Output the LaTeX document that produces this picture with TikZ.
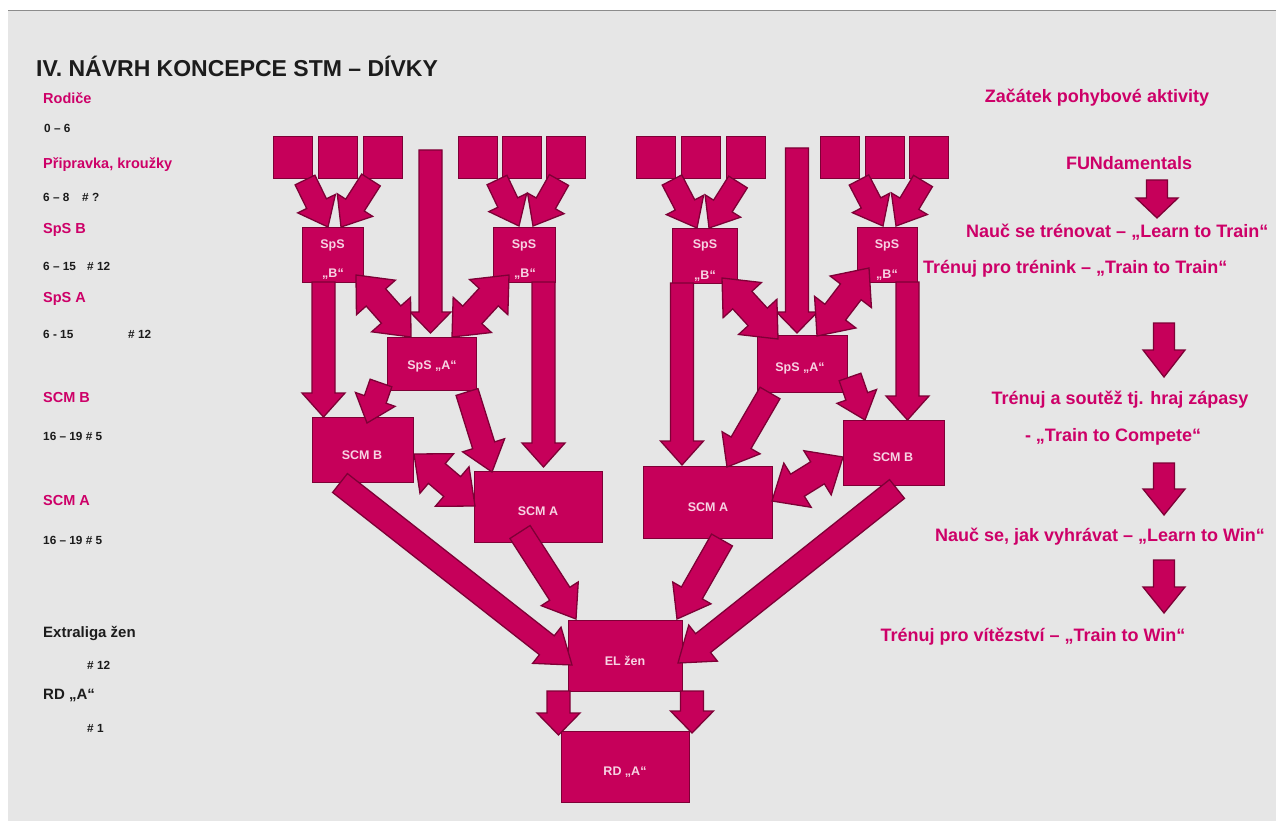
\documentclass[tikz,border=0pt]{standalone}
\usepackage{fontspec}
\setmainfont{Liberation Sans}
\usetikzlibrary{calc}
\definecolor{mag}{HTML}{C6005A}
\definecolor{magdark}{HTML}{7E0036}
\definecolor{pinktxt}{HTML}{CD0068}
\definecolor{bgc}{HTML}{E6E6E6}
\definecolor{boxtxt}{HTML}{F7D3E3}
\definecolor{ink}{HTML}{1C1C1C}

% single block arrow: #1 name, #2 start, #3 tip, #4 shaft half width, #5 head half width, #6 head length
\newcommand{\blockarrow}[6]{%
  \coordinate (#1-s) at (#2);
  \coordinate (#1-t) at (#3);
  \coordinate (#1-h) at ($(#1-t)!#6pt!(#1-s)$);
  \draw[blk] ($(#1-s)!#4pt!90:(#1-t)$) -- ($(#1-h)!#4pt!-90:(#1-s)$) -- ($(#1-h)!#5pt!-90:(#1-s)$)
    -- (#1-t) -- ($(#1-h)!#5pt!90:(#1-s)$) -- ($(#1-h)!#4pt!90:(#1-s)$) -- ($(#1-s)!#4pt!-90:(#1-t)$) -- cycle;
}
% double block arrow
\newcommand{\dblarrow}[6]{%
  \coordinate (#1-s) at (#2);
  \coordinate (#1-t) at (#3);
  \coordinate (#1-a) at ($(#1-s)!#6pt!(#1-t)$);
  \coordinate (#1-b) at ($(#1-t)!#6pt!(#1-s)$);
  \draw[blk] (#1-s) -- ($(#1-a)!#5pt!90:(#1-t)$) -- ($(#1-a)!#4pt!90:(#1-t)$) -- ($(#1-b)!#4pt!-90:(#1-s)$)
    -- ($(#1-b)!#5pt!-90:(#1-s)$) -- (#1-t) -- ($(#1-b)!#5pt!90:(#1-s)$) -- ($(#1-b)!#4pt!90:(#1-s)$)
    -- ($(#1-a)!#4pt!-90:(#1-t)$) -- ($(#1-a)!#5pt!-90:(#1-t)$) -- cycle;
}

\begin{document}
\begin{tikzpicture}[x=1pt,y=-1pt,
  blk/.style={draw=magdark, fill=mag, line width=1.3pt, line join=miter},
  box/.style={blk, inner sep=0pt, anchor=north west},
  boxtext/.style={text=boxtxt, font=\bfseries\fontsize{12.5}{14}\selectfont, inner sep=0pt},
  pinklab/.style={anchor=west, text=pinktxt, font=\bfseries\fontsize{14.5}{17}\selectfont, inner sep=0pt},
  smalllab/.style={anchor=west, text=ink, font=\bfseries\fontsize{11.8}{13}\selectfont, inner sep=0pt},
  blacklab/.style={anchor=west, text=ink, font=\bfseries\fontsize{15}{17}\selectfont, inner sep=0pt},
  stage/.style={text=pinktxt, font=\bfseries\fontsize{18}{21}\selectfont, inner sep=0pt},
]
\useasboundingbox (0,0) rectangle (1276,821);
\fill[white] (0,0) rectangle (1276,821);
\fill[bgc] (8,11) rectangle (1276,821);
\draw[black!45, line width=1pt] (8,11) -- (1276,11);

% ---------- left column texts ----------
\node[anchor=west, text=ink, font=\bfseries\fontsize{23}{26}\selectfont, inner sep=0pt] (title) at (36,66) {IV. NÁVRH KONCEPCE STM – DÍVKY};
\node[pinklab] (l1) at (43,98) {Rodiče};
\node[smalllab] (l2) at (44,128) {0 – 6};
\node[pinklab] (l3) at (43,165) {Připravka, kroužky};
\node[smalllab] (l4) at (43,197) {6 – 8};
\node[smalllab] (l4b) at (82,197) {\# ?};
\node[pinklab] (l5) at (43,230) {SpS B};
\node[smalllab] (l6) at (43,266) {6 – 15};
\node[smalllab] (l6b) at (87,266) {\# 12};
\node[pinklab] (l7) at (43,299) {SpS A};
\node[smalllab] (l8) at (43,334) {6 - 15};
\node[smalllab] (l8b) at (128,334) {\# 12};
\node[pinklab] (l9) at (43,398) {SCM B};
\node[smalllab] (l10) at (43,436) {16 – 19 \# 5};
\node[pinklab] (l11) at (43,501) {SCM A};
\node[smalllab] (l12) at (43,540) {16 – 19 \# 5};
\node[blacklab] (l13) at (43,633) {Extraliga žen};
\node[smalllab] (l14) at (87,665) {\# 12};
\node[blacklab] (l15) at (43,695) {RD „A“};
\node[smalllab] (l16) at (87,728) {\# 1};

% ---------- right column texts ----------
\node[stage] (r1) at (1097,98) {Začátek pohybové aktivity};
\node[stage] (r2) at (1129,163) {FUNdamentals};
\node[stage, anchor=west] (r3) at (966,232) {Nauč se trénovat – „Learn to Train“};
\node[stage, anchor=west] (r4) at (923,269) {Trénuj pro trénink – „Train to Train“};
\node[stage] (r5) at (1120,400) {Trénuj a soutěž tj. hraj zápasy};
\node[stage] (r6) at (1113,437) {- „Train to Compete“};
\node[stage] (r7) at (1100,537) {Nauč se, jak vyhrávat – „Learn to Win“};
\node[stage] (r8) at (1033,637) {Trénuj pro vítězství – „Train to Win“};

\blockarrow{t1}{1157,180}{1157,218}{10.5}{21}{20}
\blockarrow{t2}{1164,323}{1164,377}{10.5}{21}{27}
\blockarrow{t3}{1164,463}{1164,515}{10.5}{21}{26}
\blockarrow{t4}{1164,560}{1164,613}{10.5}{21}{26}

% ---------- boxes ----------
\foreach \n/\x in {a/273,b/318,c/363,d/458,e/502,f/546,g/636,h/681,i/726,j/820,k/865,m/909}
  \node[box, minimum width=39pt, minimum height=42pt] (top\n) at (\x,136) {};

\node[box, minimum width=61pt, minimum height=55pt] (spsbL1) at (302,227) {};
\node[box, minimum width=62pt, minimum height=55pt] (spsbL2) at (493,227) {};
\node[box, minimum width=65pt, minimum height=55pt] (spsbR1) at (672,228) {};
\node[box, minimum width=60pt, minimum height=55pt] (spsbR2) at (857,227) {};
\node[box, minimum width=89pt, minimum height=53pt] (spsaL) at (387,337) {};
\node[box, minimum width=90pt, minimum height=57pt] (spsaR) at (757,335) {};
\node[box, minimum width=101pt, minimum height=65pt] (scmbL) at (312,417) {};
\node[box, minimum width=128pt, minimum height=71pt] (scmaL) at (474,471) {};
\node[box, minimum width=129pt, minimum height=72pt] (scmaR) at (643,466) {};
\node[box, minimum width=101pt, minimum height=65pt] (scmbR) at (843,420) {};
\node[box, minimum width=114pt, minimum height=71pt] (el) at (568,620) {};
\node[box, minimum width=128pt, minimum height=71pt] (rd) at (561,731) {};

% ---------- arrows ----------
\blockarrow{aL1}{305,180}{328,227}{11}{21}{26}
\blockarrow{aL2}{371,180}{341,227}{11}{21}{26}
\blockarrow{aL3}{497,180}{519,226}{11}{21}{26}
\blockarrow{aL4}{559,180}{533,226}{11}{21}{26}
\blockarrow{aR1}{672,180}{697,228}{11}{21}{26}
\blockarrow{aR2}{738,182}{709,228}{11}{21}{26}
\blockarrow{aR3}{859,180}{883,226}{11}{21}{26}
\blockarrow{aR4}{923,181}{896,226}{11}{21}{26}

\blockarrow{vL}{430.5,150}{430.5,333}{11.5}{20.5}{21}
\blockarrow{vR}{797,148}{797,333}{11.5}{20.5}{21}

\blockarrow{vL1}{323.5,282}{323.5,417}{11.5}{21.5}{24}
\blockarrow{vL2}{543.5,282}{543.5,467}{11.5}{21.5}{24}
\blockarrow{vR1}{682,283}{682,465}{11.5}{21.5}{24}
\blockarrow{vR2}{907.5,282}{907.5,420}{11.5}{21.5}{24}

\dblarrow{dL1}{356,275}{411,337}{13}{26}{30}
\dblarrow{dL2}{509,275}{452,337}{13}{26}{30}
\dblarrow{dR1}{722,278}{778,339}{13}{26}{30}
\dblarrow{dR2}{869,268}{817,336}{13}{26}{30}
\dblarrow{dL3}{414,454}{475,506}{13}{26}{30}
\dblarrow{dR3}{772,501}{843,457}{13}{26}{30}

\blockarrow{sL1}{381,383}{367,423}{11.5}{21}{25}
\blockarrow{sL2}{467,392}{492,472}{11.5}{22}{28}
\blockarrow{sR1}{770,393}{727,467}{11.5}{22}{28}
\blockarrow{sR2}{850,377}{865,420}{11.5}{21}{25}

\blockarrow{lL1}{340,483}{572,665}{12}{23}{32}
\blockarrow{lL2}{520,532}{576,619}{12}{22}{30}
\blockarrow{lR1}{722,540}{677,619}{12}{22}{30}
\blockarrow{lR2}{897,489}{678,663}{12}{23}{32}

\blockarrow{eL}{558.5,691}{558.5,735}{11.5}{21.5}{22}
\blockarrow{eR}{692,691}{692,733}{11.5}{21.5}{22}

% ---------- box texts ----------
\node[boxtext] at (332.5,245) {SpS};
\node[boxtext] at (333,274) {„B“};
\node[boxtext] at (524,245) {SpS};
\node[boxtext] at (525,274) {„B“};
\node[boxtext] at (705,245) {SpS};
\node[boxtext] at (705,276) {„B“};
\node[boxtext] at (887,245) {SpS};
\node[boxtext] at (887,275) {„B“};
\node[boxtext] at (432,366) {SpS „A“};
\node[boxtext] at (800,368) {SpS „A“};
\node[boxtext] at (362,455) {SCM B};
\node[boxtext] at (538,511) {SCM A};
\node[boxtext] at (708,507) {SCM A};
\node[boxtext] at (893,457) {SCM B};
\node[boxtext] at (625,661) {EL žen};
\node[boxtext] at (625,772) {RD „A“};
\end{tikzpicture}
\end{document}
